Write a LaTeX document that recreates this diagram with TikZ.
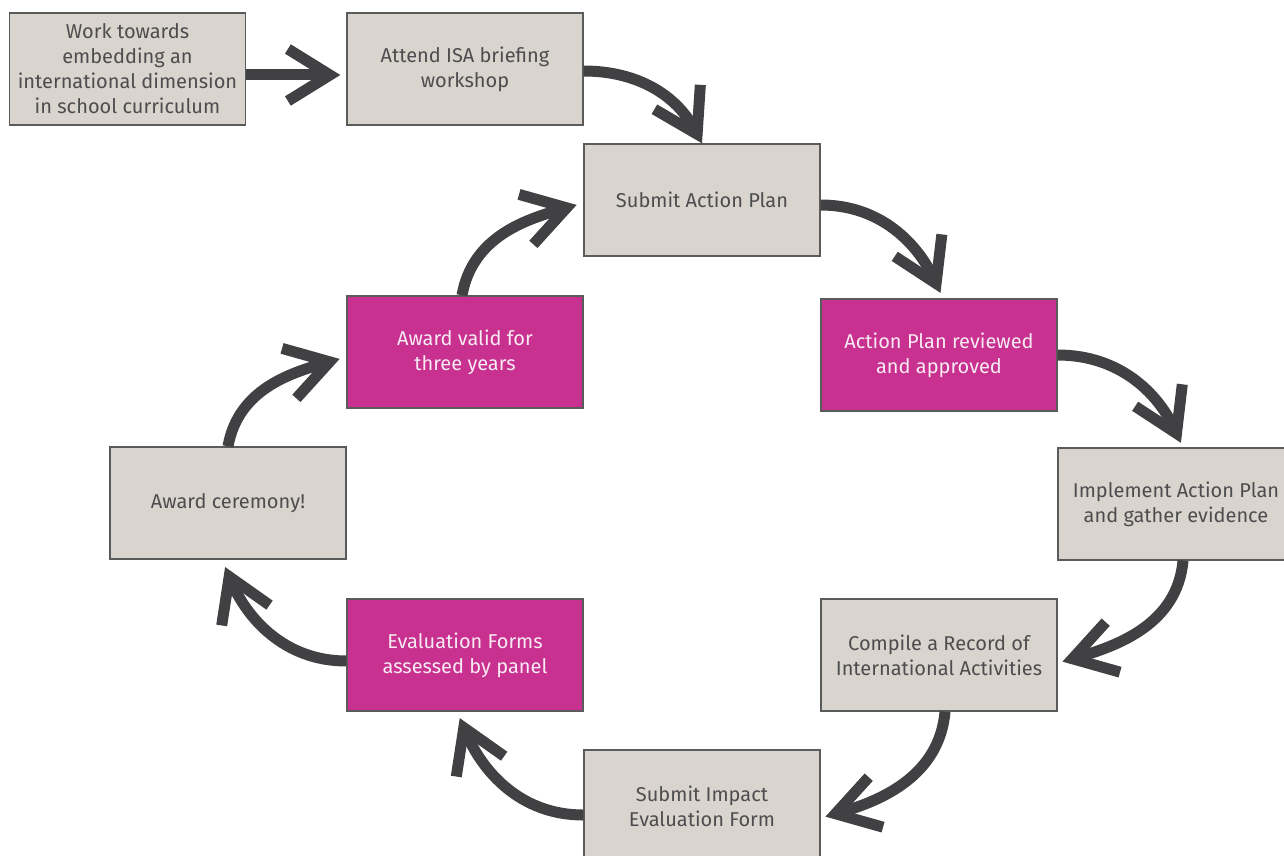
\documentclass[tikz,border=0pt]{standalone}
\usepackage{fontspec}
\setmainfont{Fira Sans}
\usetikzlibrary{arrows.meta}
\definecolor{beige}{HTML}{DAD4CE}
\definecolor{magen}{HTML}{C8318F}
\definecolor{edge}{HTML}{5B5B5B}
\definecolor{arr}{HTML}{414042}
\definecolor{txt}{HTML}{4D4D4F}
\definecolor{wtxt}{HTML}{F7EAF3}
\begin{document}
\begin{tikzpicture}[x=1pt,y=-1pt,
  box/.style={draw=edge,line width=1.3pt,minimum width=236pt,minimum height=112pt,
    inner sep=0pt,align=center,font=\fontsize{20}{25}\selectfont,text=txt},
  graybox/.style={box,fill=beige},
  pinkbox/.style={box,fill=magen,text=wtxt},
  flow/.style={draw=arr,line width=11pt,
    -{Straight Barb[length=42pt,width=52pt,line width=11pt]}}]
\useasboundingbox (0,0) rectangle (1284,856);
\node[graybox] (b1) at (127.5,69) {Work towards\\embedding an\\international dimension\\in school curriculum};
\node[graybox] (b2) at (465,69) {Attend ISA briefing\\workshop};
\node[graybox] (b3) at (702,200) {Submit Action Plan};
\node[pinkbox] (b4) at (939,355) {Action Plan reviewed\\and approved};
\node[graybox] (b5) at (1176,504) {Implement Action Plan\\and gather evidence};
\node[graybox] (b6) at (939,655) {Compile a Record of\\International Activities};
\node[graybox] (b7) at (702,806) {Submit Impact\\Evaluation Form};
\node[pinkbox] (b8) at (465,655) {Evaluation Forms\\assessed by panel};
\node[graybox] (b9) at (228,503) {Award ceremony!};
\node[pinkbox] (b10) at (465,352) {Award valid for\\three years};

\draw[flow,shorten >=6pt] ([yshift=-6pt]b1.east) -- ([yshift=-6pt]b2.west);
\draw[flow] ([yshift=-2pt]b2.east) to[out=0,in=118] (b3.north);
\draw[flow,shorten >=6pt] ([yshift=-5pt]b3.east) to[out=0,in=115] ([xshift=4pt]b4.north);
\draw[flow,shorten >=5pt] (b4.east) to[out=0,in=115] ([xshift=7pt]b5.north);
\draw[flow,shorten >=5pt] ([xshift=7pt]b5.south) to[out=-95,in=16] ([yshift=-8pt]b6.east);
\draw[flow,shorten >=5pt] ([xshift=6pt]b6.south) to[out=-95,in=16] ([yshift=-12pt]b7.east);
\draw[flow,shorten >=7pt] ([yshift=-9pt]b7.west) to[out=180,in=-67] ([xshift=-8pt]b8.south);
\draw[flow,shorten >=8pt] ([yshift=-6pt]b8.west) to[out=180,in=-67] ([xshift=-6pt]b9.south);
\draw[flow,shorten >=7pt] (b9.north) to[out=80,in=196] ([yshift=-5pt]b10.west);
\draw[flow,shorten >=7pt] ([xshift=-3pt]b10.north) to[out=80,in=196] ([yshift=-3pt]b3.west);
\end{tikzpicture}
\end{document}
